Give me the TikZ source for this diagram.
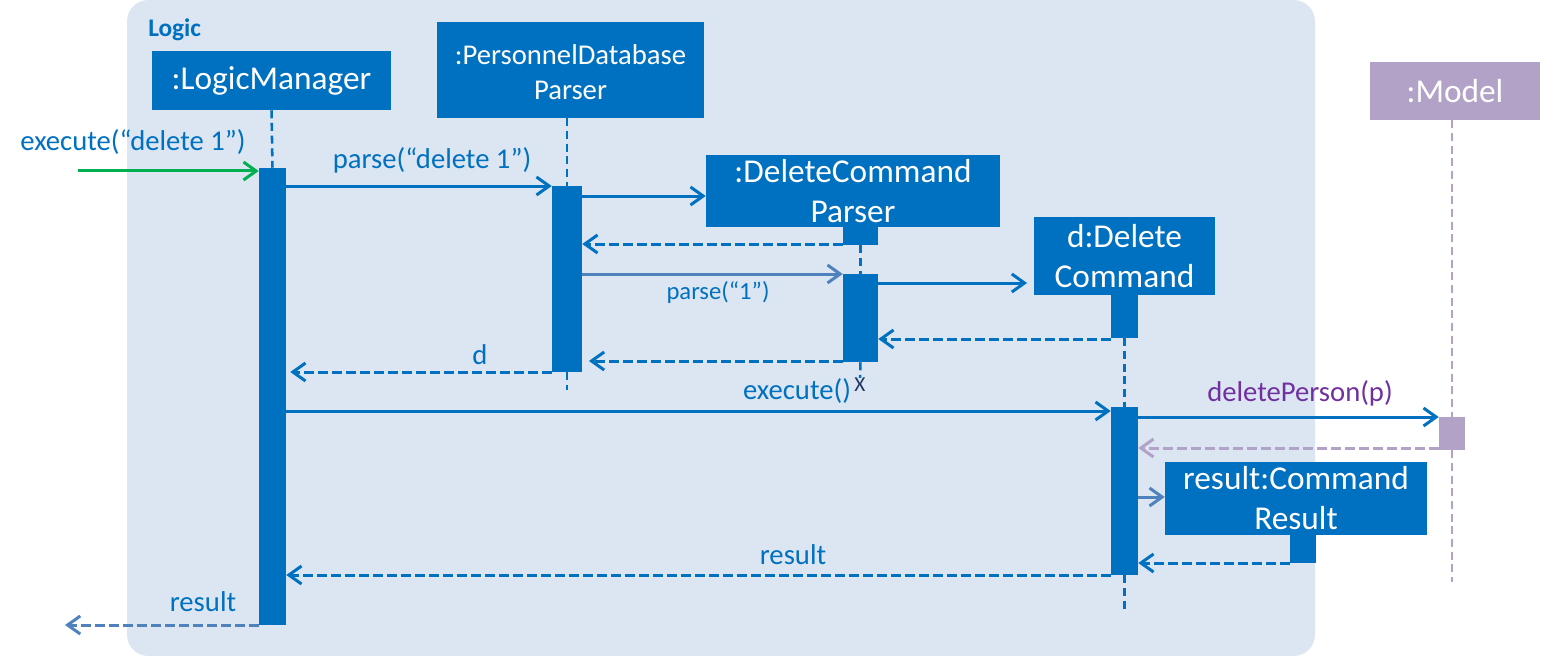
\documentclass[tikz,border=0pt]{standalone}
\usepackage{fontspec}
\setmainfont{Carlito}
\usetikzlibrary{arrows.meta,fit}
\definecolor{uBlue}{HTML}{0070C0}
\definecolor{uBg}{HTML}{DCE6F2}
\definecolor{uPurpleBox}{HTML}{B3A2C7}
\definecolor{uPurple}{HTML}{7030A0}
\definecolor{uGreen}{HTML}{00B050}
\definecolor{uLight}{HTML}{4F81BD}
\definecolor{uDark}{HTML}{1F3864}
\begin{document}
\begin{tikzpicture}[x=0.75pt,y=-0.75pt,
  box/.style={fill=uBlue, inner sep=0pt},
  pbox/.style={box, fill=uPurpleBox},
  btxt/.style={text=white, inner sep=0pt, align=center, font=\fontsize{25}{30}\selectfont},
  act/.style={fill=uBlue, inner sep=0pt},
  life/.style={draw=uBlue, line width=1.9pt, dash pattern=on 6pt off 3.5pt},
  plife/.style={life, draw=uPurpleBox},
  msg/.style={draw=uBlue, line width=2.25pt, -{Straight Barb[length=9.5pt,width=13.5pt]}},
  ret/.style={msg, dash pattern=on 7pt off 3.5pt},
  lbl/.style={text=uBlue, font=\fontsize{21.5}{26}\selectfont, inner sep=0pt}
]
\useasboundingbox (0,0) rectangle (1541,656);
\fill[uBg, rounded corners=16pt] (127,0) rectangle (1315,656);
\node[text=uBlue, font=\bfseries\fontsize{19}{22}\selectfont, anchor=west, inner sep=0pt] (logic) at (148,30) {Logic};

% lifeline heads
\node[box, fit={(152,51) (391,110)}] (lm) {};
\node[btxt] (lmt) at (lm.center) {:LogicManager};
\node[box, fit={(437,22) (704,118)}] (pdp) {};
\node[btxt, font=\fontsize{21.5}{26}\selectfont] (pdpt) at ([yshift=-1.5]pdp.center) {:PersonnelDatabase\\Parser};
\node[box, fit={(706,155) (1000,227)}] (dcp) {};
\node[btxt] (dcpt) at (dcp.center) {:DeleteCommand\\Parser};
\node[box, fit={(1034,217) (1215,295)}] (dc) {};
\node[btxt] (dct) at (dc.center) {d:Delete\\Command};
\node[pbox, fit={(1370,62) (1540,120)}] (model) {};
\node[btxt] (modelt) at (model.center) {:Model};
\node[box, fit={(1165,462) (1427,535)}] (cr) {};
\node[btxt] (crt) at (cr.center) {result:Command\\Result};

% activation bars
\node[act, fit={(259,168) (286,625)}] (lmact) {};
\node[act, fit={(552,186) (582,372)}] (pdpact) {};
\node[act, fit={(843,227) (878,245)}] (dcpA) {};
\node[act, fit={(843,274) (878,362)}] (dcpB) {};
\node[act, fit={(1111,295) (1138,338)}] (dcA) {};
\node[act, fit={(1111,407) (1138,575)}] (dcB) {};
\node[act, fill=uPurpleBox, fit={(1439,417) (1465,450)}] (mact) {};
\node[act, fit={(1290,535) (1316,563)}] (cract) {};

% lifelines
\coordinate (pdpend) at (567,390);
\coordinate (dcend) at (1124.5,612);
\coordinate (mend) at (1452,582);
\draw[life] (lm.south) -- (lmact.north);
\draw[life] (pdpact.north |- pdp.south) -- (pdpact.north);
\draw[life] (pdpact.south) -- (pdpend);
\draw[life] (dcpA.south) -- (dcpB.north);
\node[text=uDark, font=\fontsize{16}{18}\selectfont, inner sep=0pt] (xmark) at (860,385) {X};
\draw[life] (dcpB.south) -- (xmark.north);
\draw[life] (dcA.south) -- (dcB.north);
\draw[life] (dcB.south) -- (dcend);
\draw[plife] (mact.north |- model.south) -- (mact.north);
\draw[plife] (mact.south) -- (mend);

% messages
\coordinate (ext) at (78,171);
\draw[msg, draw=uGreen] (ext) -- (lmact.west |- 0,171);
\node[lbl] (l1) at (133,142) {execute(“delete 1”)};

\draw[msg] (lmact.east |- 0,186) -- (pdpact.west |- 0,186);
\node[lbl] (l2) at (432,160) {parse(“delete 1”)};

\draw[msg] (pdpact.east |- 0,196) -- (dcp.west |- 0,196);
\draw[ret] (dcpA.west |- 0,244) -- (pdpact.east |- 0,244);

\draw[msg, draw=uLight] (pdpact.east |- 0,274) -- (dcpB.west |- 0,274);
\node[lbl, font=\fontsize{18.5}{22}\selectfont] (l3) at (718,292) {parse(“1”)};

\draw[msg, shorten >=5pt] (dcpB.east |- 0,283) -- (dc.west |- 0,283);
\draw[ret] (dcA.west |- 0,339) -- (dcpB.east |- 0,339);
\draw[ret, shorten >=5pt] (dcpB.west |- 0,361) -- (pdpact.east |- 0,361);
\draw[ret, shorten >=3pt] (pdpact.west |- 0,372) -- (lmact.east |- 0,372);
\node[lbl] (l4) at (480,355) {d};

\draw[msg] (lmact.east |- 0,411) -- (dcB.west |- 0,411);
\node[lbl] (l5) at (797,391) {execute()};

\draw[msg] (dcB.east |- 0,417) -- (mact.west |- 0,417);
\node[lbl, text=uPurple] (l6) at (1300,393) {deletePerson(p)};

\draw[ret, draw=uPurpleBox] (mact.west |- 0,448) -- (dcB.east |- 0,448);
\draw[msg, draw=uLight] (dcB.east |- 0,497) -- (cr.west |- 0,497);
\draw[ret] (cract.west |- 0,563) -- (dcB.east |- 0,563);

\draw[ret] (dcB.west |- 0,575) -- (lmact.east |- 0,575);
\node[lbl] (l7) at (793,555) {result};

\coordinate (lmret) at (65,625);
\draw[ret, draw=uLight] (lmact.west |- 0,625) -- (lmret);
\node[lbl] (l8) at (203,602) {result};
\end{tikzpicture}
\end{document}
